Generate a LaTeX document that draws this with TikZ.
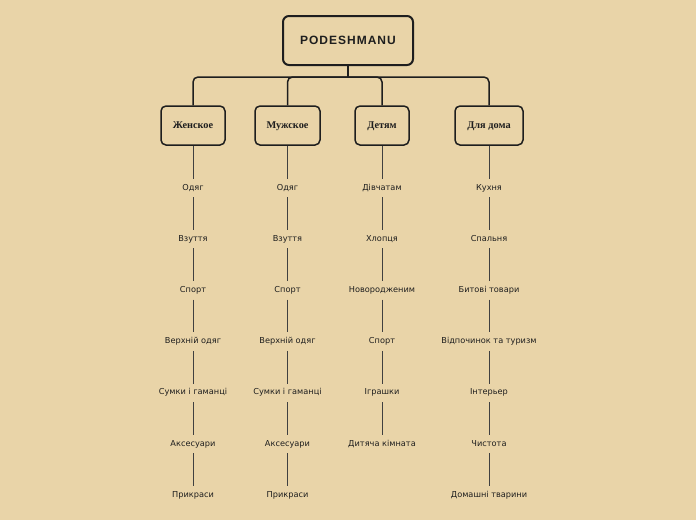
\documentclass[tikz,border=0pt]{standalone}
\usepackage{fontspec}
\setmainfont{DejaVu Sans}
\newfontfamily\serifb{Liberation Serif}
\newfontfamily\rootfont{Liberation Sans}
\definecolor{bg}{RGB}{233,212,168}
\definecolor{ink}{RGB}{30,30,30}
\begin{document}
\begin{tikzpicture}[x=1pt,y=-1pt,
  rootbox/.style={draw=ink,line width=2pt,rounded corners=6pt,minimum width=130pt,minimum height=49pt,font=\rootfont\bfseries\fontsize{12}{14}\selectfont,text=ink},
  catbox/.style={draw=ink,line width=1.5pt,rounded corners=5pt,minimum height=39pt,text height=7pt,text depth=1pt,font=\serifb\bfseries\fontsize{10.3}{12}\selectfont,text=ink},
  leaf/.style={font=\fontsize{8.2}{10}\selectfont,text=ink,text height=6pt,text depth=2pt,minimum height=18pt,inner sep=1pt},
  bus/.style={draw=ink,line width=1.5pt,rounded corners=5pt},
  stem/.style={draw=ink!85,line width=0.7pt}]
\fill[bg] (0,0) rectangle (696,520);
\useasboundingbox (0,0) rectangle (696,520);
\node[rootbox] (root) at (348,40.5) {P\kern1pt O\kern1pt D\kern1pt E\kern1pt S\kern1pt H\kern1pt M\kern1pt A\kern1pt N\kern1pt U};
\node[catbox,minimum width=64pt] (c1) at (193,125.5) {Женское};
\node[catbox,minimum width=65pt] (c2) at (287.5,125.5) {Мужское};
\node[catbox,minimum width=54pt] (c3) at (382,125.5) {Детям};
\node[catbox,minimum width=68pt] (c4) at (489,125.5) {Для дома};
\coordinate (b0) at (348,77);
\draw[bus] (root.south) -- (b0);
\draw[bus] (b0) -| (c1.north);
\draw[bus] (b0) -| (c2.north);
\draw[bus] (b0) -| (c3.north);
\draw[bus] (b0) -| (c4.north);
\foreach \t [count=\i] in {Одяг,Взуття,Спорт,Верхній одяг,Сумки і гаманці,Аксесуари,Прикраси}
  \node[leaf] (a\i) at (193,{188+(\i-1)*51.2}) {\t};
\foreach \t [count=\i] in {Одяг,Взуття,Спорт,Верхній одяг,Сумки і гаманці,Аксесуари,Прикраси}
  \node[leaf] (m\i) at (287.5,{188+(\i-1)*51.2}) {\t};
\foreach \t [count=\i] in {Дівчатам,Хлопця,Новородженим,Спорт,Іграшки,Дитяча кімната}
  \node[leaf] (d\i) at (382,{188+(\i-1)*51.2}) {\t};
\foreach \t [count=\i] in {Кухня,Спальня,Битові товари,Відпочинок та туризм,Інтерьер,Чистота,Домашні тварини}
  \node[leaf] (h\i) at (489,{188+(\i-1)*51.2}) {\t};
\draw[stem] (c1.south) -- (a1.north);
\draw[stem] (c2.south) -- (m1.north);
\draw[stem] (c3.south) -- (d1.north);
\draw[stem] (c4.south) -- (h1.north);
\foreach \i [evaluate=\i as \j using int(\i+1)] in {1,...,6} {
  \draw[stem] (a\i.south) -- (a\j.north);
  \draw[stem] (m\i.south) -- (m\j.north);
  \draw[stem] (h\i.south) -- (h\j.north);
}
\foreach \i [evaluate=\i as \j using int(\i+1)] in {1,...,5}
  \draw[stem] (d\i.south) -- (d\j.north);
\end{tikzpicture}
\end{document}
